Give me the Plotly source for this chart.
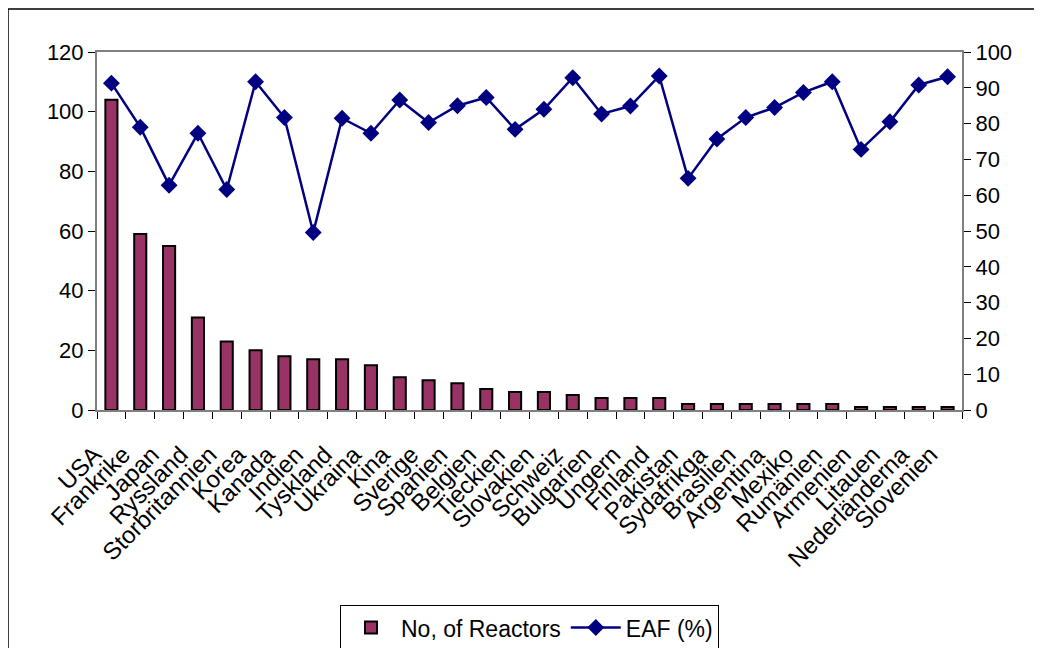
import plotly.graph_objects as go

countries = ["USA", "Frankrike", "Japan", "Ryssland", "Storbritannien", "Korea", "Kanada",
             "Indien", "Tyskland", "Ukraina", "Kina", "Sverige", "Spanien", "Belgien",
             "Tieckien", "Slovakien", "Schweiz", "Bulgarien", "Ungern", "Finland", "Pakistan",
             "Sydafrikga", "Brasilien", "Argentina", "Mexiko", "Rumänien", "Armenien",
             "Litauen", "Nederländerna", "Slovenien"]
reactors = [104, 59, 55, 31, 23, 20, 18, 17, 17, 15, 11, 10, 9, 7, 6, 6, 5, 4, 4, 4,
            2, 2, 2, 2, 2, 2, 1, 1, 1, 1]
eaf = [91.3, 79.0, 62.8, 77.3, 61.6, 91.7, 81.7, 49.6, 81.5, 77.3, 86.6, 80.3, 85.0, 87.3,
       78.4, 84.0, 92.8, 82.7, 84.9, 93.3, 64.7, 75.7, 81.7, 84.5, 88.7, 91.7, 72.8,
       80.5, 90.8, 93.1]

font = "Liberation Sans, Arial, sans-serif"
fs = 22

fig = go.Figure()
fig.add_trace(go.Bar(
    x=countries, y=reactors, name="No, of Reactors",
    marker=dict(color="#993366", line=dict(color="black", width=2)),
    yaxis="y"))
fig.add_trace(go.Scatter(
    x=countries, y=eaf, name="EAF (%)", mode="lines+markers",
    line=dict(color="#000080", width=2.5),
    marker=dict(symbol="diamond", size=13, color="#000080"),
    yaxis="y2"))

fig.update_layout(
    width=1034, height=640,
    margin=dict(l=89, r=80, t=44, b=238, autoexpand=False),
    paper_bgcolor="white", plot_bgcolor="white",
    font=dict(family=font, size=fs, color="black"),
    bargap=0.58,
    showlegend=True,
    legend=dict(orientation="h", x=0.5, xanchor="center", y=-0.545, yanchor="top",
                bordercolor="black", borderwidth=1, font=dict(size=23),
                itemwidth=50, tracegroupgap=0),
    xaxis=dict(tickangle=-45, showline=True, linecolor="#808080", linewidth=2,
               mirror=True, ticks="outside", tickson="boundaries", ticklen=7,
               tickcolor="black", showgrid=False, tickfont=dict(size=24),
               tickmode="array", tickvals=countries, ticktext=countries,
               ticklabelstandoff=19, ticklabelshift=-17,
               automargin=False, range=[-0.5, len(countries) - 0.5]),
    yaxis=dict(range=[0, 120], dtick=20, showline=True, linecolor="#808080", linewidth=2,
               ticks="outside", ticklen=7, tickcolor="black", showgrid=False,
               zeroline=False, tickfont=dict(size=fs), automargin=False),
    yaxis2=dict(range=[0, 100], dtick=10, overlaying="y", side="right", showline=True,
                linecolor="#808080", linewidth=2, ticks="outside", ticklen=7,
                tickcolor="black", showgrid=False, zeroline=False, tickfont=dict(size=fs),
                automargin=False),
    shapes=[dict(type="rect", xref="paper", yref="paper",
                 x0=(0 - 89) / 865, x1=1.3, y0=-1.0, y1=1 + (44 - 1) / 358,
                 line=dict(color="black", width=1.5), layer="below")],
)

fig.write_html("out.html")
